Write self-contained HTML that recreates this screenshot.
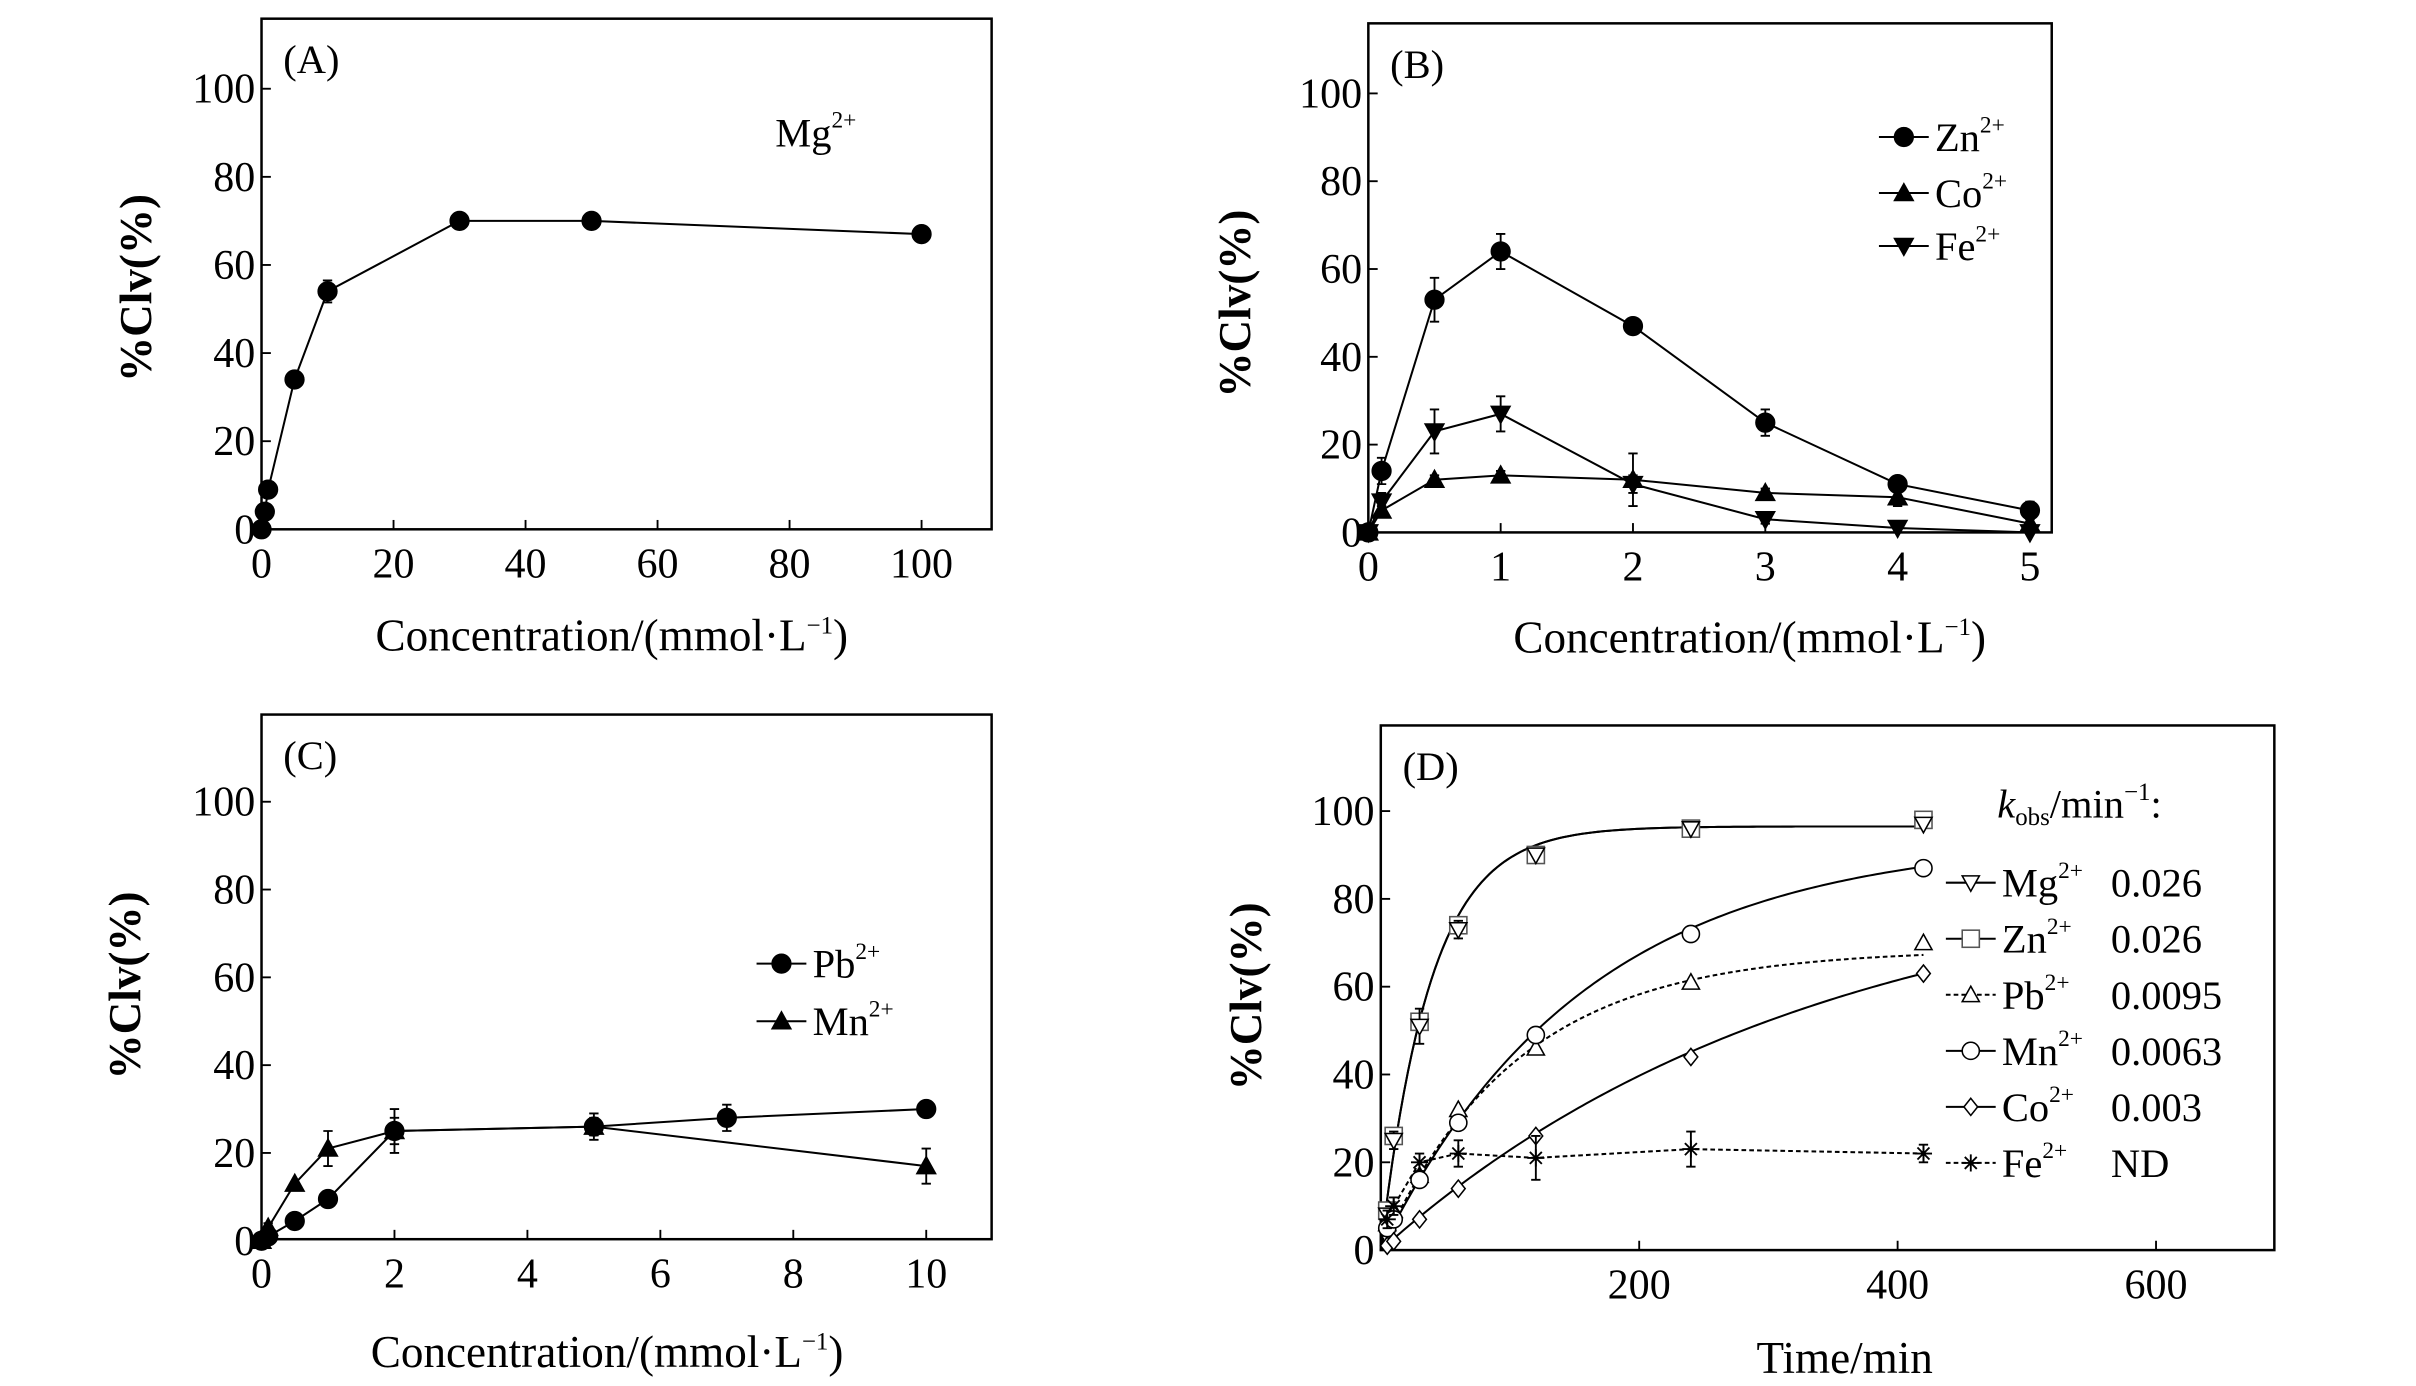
<!DOCTYPE html>
<html><head><meta charset="utf-8">
<style>
html,body{margin:0;padding:0;background:#fff;}
svg{display:block;}
text{font-family:"Liberation Serif",serif;fill:#000;}
</style></head>
<body>
<svg id="fig" width="2416" height="1386" viewBox="0 0 1552 890.3" preserveAspectRatio="none" xmlns="http://www.w3.org/2000/svg"></svg>
<script>
// ---- Panel A data ----
const aX = [0, 0.5, 1, 5, 10, 30, 50, 100];
const aMg = [0, 4, 9, 34, 54, 70, 70, 67];
const aMgErr = [0, 0, 0, 0, 2.5, 0, 0, 0];
const aXTicks = [0, 20, 40, 60, 80, 100];
// ---- Panel B data ----
const bX = [0, 0.1, 0.5, 1, 2, 3, 4, 5];
const bZn = [0, 14, 53, 64, 47, 25, 11, 5];
const bZnErr = [0, 3, 5, 4, 1, 3, 1, 2];
const bCo = [0, 5, 12, 13, 12, 9, 8, 2];
const bCoErr = [0, 1, 1, 1, 6, 1, 2, 1];
const bFe = [0, 7, 23, 27, 11, 3, 1, 0];
const bFeErr = [0, 2, 5, 4, 2, 1, 1, 0];
const bXTicks = [0, 1, 2, 3, 4, 5];
// ---- Panel C data ----
const cPbX = [0, 0.1, 0.5, 1, 2, 5, 7, 10];
const cPb = [0, 1, 4.5, 9.5, 25, 26, 28, 30];
const cPbErr = [0, 0, 0, 0, 3, 3, 3, 0];
const cMnX = [0, 0.1, 0.5, 1, 2, 5, 10];
const cMn = [0, 3, 13, 21, 25, 26, 17];
const cMnErr = [0, 1, 0, 4, 5, 2, 4];
const cXTicks = [0, 2, 4, 6, 8, 10];
// ---- Panel D data ----
const dT = [0, 5, 10, 30, 60, 120, 240, 420];
const dMg = [0, 8, 25, 51, 73, 90, 96, 97];
const dZn = [0, 9, 26, 52, 74, 90, 96, 98];
const dPb = [0, 6, 9, 17, 32, 46, 61, 70];
const dMn = [0, 5, 7, 16, 29, 49, 72, 87];
const dCo = [0, 1, 2, 7, 14, 26, 44, 63];
const dFe = [0, 7, 10, 20, 22, 21, 23, 22];
const dFeErr = [0, 2, 2, 2, 3, 5, 4, 2];
const dMgErr = [0, 0, 2, 4, 2, 0, 0, 0];
const kLabels = ["Mg", "Zn", "Pb", "Mn", "Co", "Fe"];
const kValues = ["0.026", "0.026", "0.0095", "0.0063", "0.003", "ND"];
const kRates = [0.026, 0.026, 0.0095, 0.0063, 0.003];
const kAmps = [96.5, 96.5, 68.5, 94, 88];
const dXTicks = [200, 400, 600];
const yTicks = [0, 20, 40, 60, 80, 100];

const NS = "http://www.w3.org/2000/svg";
const svg = document.getElementById('fig');
const TICK = 27, TITLE = 29, LEG = 26;
function el(tag, attrs, parent) {
  const e = document.createElementNS(NS, tag);
  for (const k in attrs) e.setAttribute(k, attrs[k]);
  (parent || svg).appendChild(e);
  return e;
}
function lin(d0, d1, r0, r1) { return v => r0 + (v - d0) * (r1 - r0) / (d1 - d0); }

function marker(g, type, x, y, s, fill) {
  const f = fill ? '#000' : '#fff';
  let m;
  if (type === 'circle') m = el('circle', {cx: x, cy: y, r: s, fill: f, stroke: '#000', 'stroke-width': 1}, g);
  else if (type === 'up') m = el('polygon', {points: `${x},${y - s} ${x - s},${y + s * 0.8} ${x + s},${y + s * 0.8}`, fill: f, stroke: '#000', 'stroke-width': 1}, g);
  else if (type === 'down') m = el('polygon', {points: `${x},${y + s} ${x - s},${y - s * 0.8} ${x + s},${y - s * 0.8}`, fill: f, stroke: '#000', 'stroke-width': 1}, g);
  else if (type === 'square') m = el('rect', {x: x - s, y: y - s, width: 2 * s, height: 2 * s, fill: f, stroke: '#555', 'stroke-width': 1}, g);
  else if (type === 'diamond') m = el('polygon', {points: `${x},${y - s} ${x + s * 0.8},${y} ${x},${y + s} ${x - s * 0.8},${y}`, fill: f, stroke: '#000', 'stroke-width': 1}, g);
  else m = el('path', {d: `M${x - s},${y}H${x + s}M${x - s * 0.7},${y - s * 0.7}L${x + s * 0.7},${y + s * 0.7}M${x - s * 0.7},${y + s * 0.7}L${x + s * 0.7},${y - s * 0.7}M${x},${y - s}V${y + s}`, stroke: '#000', 'stroke-width': 1.2, fill: 'none'}, g);
  
  
  return m;
}

function errbar(g, x, y1, y2) {
  const p = el('path', {d: `M${x},${y1}V${y2}M${x - 3},${y1}H${x + 3}M${x - 3},${y2}H${x + 3}`, stroke: '#000', 'stroke-width': 1.2, fill: 'none'}, g);
  
  
}

function panel(o) {
  const g = el('g', {});
  
  
  const fr = el('rect', {x: o.L, y: o.T, width: o.R - o.L, height: o.B - o.T, fill: 'none', stroke: '#000', 'stroke-width': 1.6}, g);
  
  
  yTicks.forEach(v => {
    const y = o.sy(v);
    if (v > 0) el('line', {x1: o.L, x2: o.L + 6, y1: y, y2: y, stroke: '#000', 'stroke-width': 1.2}, g);
    const t = el('text', {x: o.L - 4, y: y + 9, 'font-size': TICK, 'text-anchor': 'end'}, g);
    t.textContent = v;
    
    
  });
  o.xt.forEach(v => {
    const x = o.sx(v);
    if (v > 0) el('line', {x1: x, x2: x, y1: o.B, y2: o.B - 6, stroke: '#000', 'stroke-width': 1.2}, g);
    const t = el('text', {x: x, y: o.B + 31, 'font-size': TICK, 'text-anchor': 'middle'}, g);
    t.textContent = v;
    
    
  });
  const yt = el('text', {x: 0, y: 0, 'font-size': TITLE, 'text-anchor': 'middle', transform: `translate(${o.ytx},${o.yty}) rotate(-90)`, 'font-weight': 'bold'}, g);
  yt.textContent = '%Clv(%)';
  
  
  const xt = el('text', {x: o.xtx, y: o.xty, 'font-size': TITLE, 'text-anchor': 'middle'}, g);
  xt.innerHTML = o.xtitle;
  
  
  const pl = el('text', {x: o.L + 14, y: o.T + 35, 'font-size': 26}, g);
  pl.textContent = o.label;
  
  
  return g;
}

function series(g, xs, ys, errs, sx, sy, type, fill, name, s) {
  const sg = el('g', {}, g);
  
  
  const pts = xs.map((x, i) => `${sx(x)},${sy(ys[i])}`).join(' ');
  const pl = el('polyline', {points: pts, fill: 'none', stroke: '#000', 'stroke-width': 1.3}, sg);
  
  
  xs.forEach((x, i) => {
    if (errs && errs[i]) errbar(sg, sx(x), sy(ys[i] - errs[i]), sy(ys[i] + errs[i]));
    marker(sg, type, sx(x), sy(ys[i]), s || 6, fill);
  });
}

function legendRow(g, x, y, type, fill, label, dashed, s) {
  const lg = el('g', {}, g);
  
  
  el('line', {x1: x, x2: x + 32, y1: y, y2: y, stroke: '#000', 'stroke-width': 1.3, 'stroke-dasharray': dashed ? '3,2' : 'none'}, lg);
  marker(lg, type, x + 16, y, s || 6, fill);
  const t = el('text', {x: x + 36, y: y + 9, 'font-size': LEG}, lg);
  t.innerHTML = label + '<tspan font-size="15" dy="-12">2+</tspan>';
  return lg;
}
const MINUS1 = '<tspan font-size="16" dy="-11">−1</tspan><tspan dy="11">)</tspan>';

// Panel A
{
  const o = {name: 'panel-a', L: 168, R: 637, T: 12, B: 340, label: '(A)'};
  o.sx = lin(0, 100, 168, 592); o.sy = lin(0, 100, 340, 57);
  o.xt = aXTicks; o.ytx = 97; o.yty = 185; o.xtx = 393; o.xty = 418;
  o.xtitle = 'Concentration/(mmol·L' + MINUS1;
  const g = panel(o);
  series(g, aX, aMg, aMgErr, o.sx, o.sy, 'circle', true, 'mg-series', 6);
  const t = el('text', {x: 498, y: 94, 'font-size': LEG}, g);
  t.innerHTML = 'Mg<tspan font-size="15" dy="-12">2+</tspan>';
  
  
}
// Panel B
{
  const o = {name: 'panel-b', L: 879, R: 1318, T: 15, B: 342, label: '(B)'};
  o.sx = lin(0, 5, 879, 1304); o.sy = lin(0, 100, 342, 60);
  o.xt = bXTicks; o.ytx = 803; o.yty = 195; o.xtx = 1124; o.xty = 419;
  o.xtitle = 'Concentration/(mmol·L' + MINUS1;
  const g = panel(o);
  series(g, bX, bCo, bCoErr, o.sx, o.sy, 'up', true, 'co-series', 6);
  series(g, bX, bFe, bFeErr, o.sx, o.sy, 'down', true, 'fe-series', 6);
  series(g, bX, bZn, bZnErr, o.sx, o.sy, 'circle', true, 'zn-series', 6);
  legendRow(g, 1207, 88, 'circle', true, 'Zn');
  legendRow(g, 1207, 124, 'up', true, 'Co');
  legendRow(g, 1207, 158, 'down', true, 'Fe');
}
// Panel C
{
  const o = {name: 'panel-c', L: 168, R: 637, T: 459, B: 796, label: '(C)'};
  o.sx = lin(0, 10, 168, 595); o.sy = lin(0, 100, 797, 515);
  o.xt = cXTicks; o.ytx = 90; o.yty = 633; o.xtx = 390; o.xty = 878;
  o.xtitle = 'Concentration/(mmol·L' + MINUS1;
  const g = panel(o);
  series(g, cMnX, cMn, cMnErr, o.sx, o.sy, 'up', true, 'mn-series', 6);
  series(g, cPbX, cPb, cPbErr, o.sx, o.sy, 'circle', true, 'pb-series', 6);
  legendRow(g, 486, 619, 'circle', true, 'Pb');
  legendRow(g, 486, 656, 'up', true, 'Mn');
}
// Panel D
{
  const o = {name: 'panel-d', L: 887, R: 1461, T: 466, B: 803, label: '(D)'};
  o.sx = lin(0, 200, 887, 1053); o.sy = lin(0, 100, 803, 521);
  o.xt = dXTicks; o.ytx = 810; o.yty = 640; o.xtx = 1185; o.xty = 882;
  o.xtitle = 'Time/min';
  const g = panel(o);
  const dashedFit = [false, false, true, false, false];
  kRates.forEach((k, i) => {
    let d = '';
    for (let t = 0; t <= 420; t += 3) d += (t ? 'L' : 'M') + o.sx(t) + ',' + o.sy(kAmps[i] * (1 - Math.exp(-k * t)));
    const p = el('path', {d: d, fill: 'none', stroke: '#000', 'stroke-width': 1.3, 'stroke-dasharray': dashedFit[i] ? '3,2' : 'none'}, g);
    
    
  });
  const fe = el('polyline', {points: dT.map((t, i) => `${o.sx(t)},${o.sy(dFe[i])}`).join(' '), fill: 'none', stroke: '#000', 'stroke-width': 1.3, 'stroke-dasharray': '3,2'}, g);
  
  
  const sets = [[dZn, 'square', null], [dMg, 'down', dMgErr], [dPb, 'up', null], [dMn, 'circle', null], [dCo, 'diamond', null], [dFe, 'star', dFeErr]];
  const setNames = ['zn', 'mg', 'pb', 'mn', 'co', 'fe'];
  sets.forEach((s, j) => {
    const sg = el('g', {}, g);
    
    
    dT.forEach((t, i) => {
      if (t === 0) return;
      if (s[2] && s[2][i]) errbar(sg, o.sx(t), o.sy(s[0][i] - s[2][i]), o.sy(s[0][i] + s[2][i]));
      marker(sg, s[1], o.sx(t), o.sy(s[0][i]), s[1] === 'square' ? 5.5 : 5.5, false);
    });
  });
  const kh = el('text', {x: 1283, y: 525, 'font-size': LEG}, g);
  kh.innerHTML = '<tspan font-style="italic">k</tspan><tspan font-size="16" dy="5">obs</tspan><tspan dy="-5">/min</tspan><tspan font-size="16" dy="-11">−1</tspan><tspan dy="11">:</tspan>';
  
  
  const types = ['down', 'square', 'up', 'circle', 'diamond', 'star'];
  kLabels.forEach((lab, i) => {
    const y = 567 + i * 36;
    const lg = legendRow(g, 1250, y, types[i], false, lab, i === 2 || i === 5, 5.5);
    const v = el('text', {x: 1356, y: y + 9, 'font-size': LEG}, lg);
    v.textContent = kValues[i];
  });
}
</script>
</body></html>
